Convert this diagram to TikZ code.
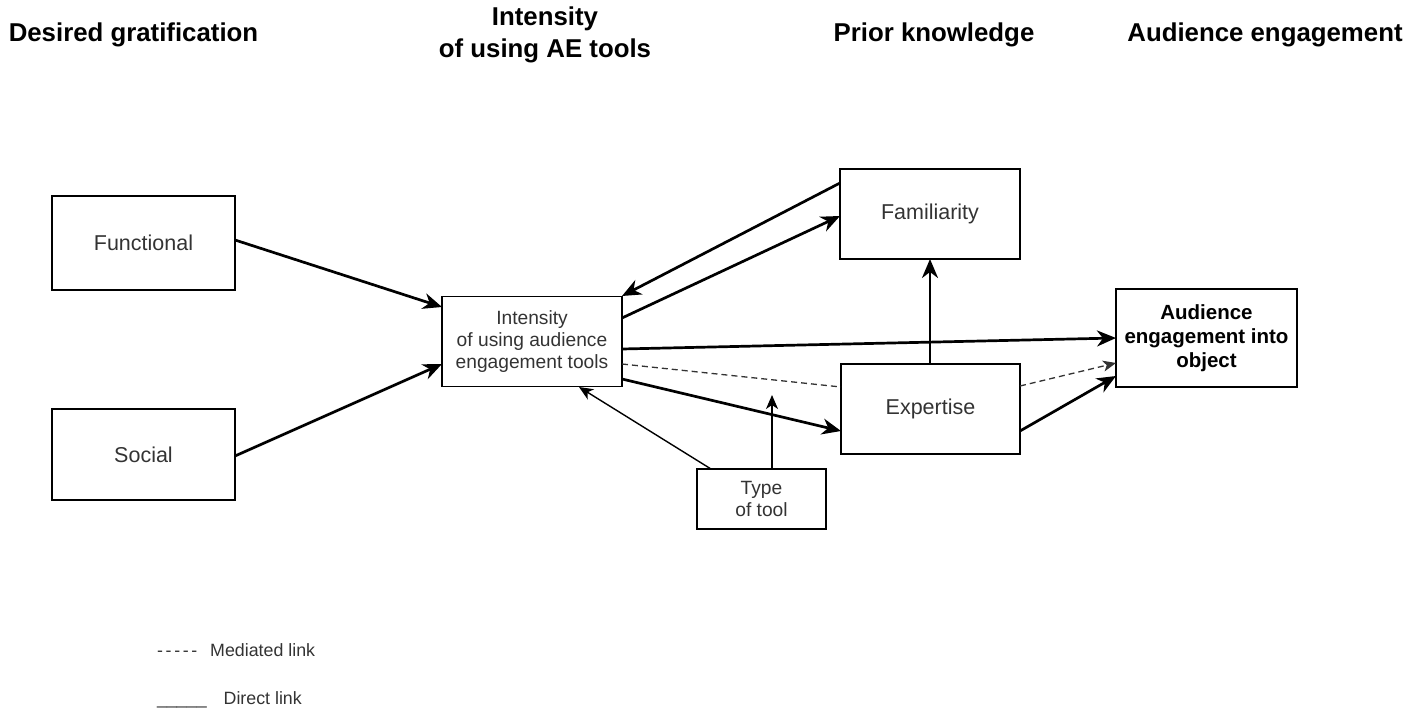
\documentclass[tikz,border=0pt]{standalone}
\usepackage{fontspec}
\setmainfont{Liberation Sans}
\usetikzlibrary{arrows.meta}
\definecolor{txtgrey}{HTML}{333333}
\begin{document}
\begin{tikzpicture}[x=1pt,y=-1pt,
  box/.style={draw=black,line width=1.5pt,rectangle,inner sep=0pt,align=center,text=txtgrey,font=\fontsize{21.5}{25}\selectfont},
  hdr/.style={font=\bfseries\fontsize{25.8}{32}\selectfont,align=center,text=black},
  strong/.style={line width=2.7pt,-{Stealth[length=19pt,width=16pt,inset=6pt]}},
  weak/.style={line width=1.4pt,-{Stealth[length=14pt,width=12pt,inset=4pt]}},
  medi/.style={line width=1.3pt,dash pattern=on 6pt off 4pt,draw=txtgrey},
  legend/.style={font=\fontsize{17.8}{20}\selectfont,text=txtgrey,anchor=west,inner sep=0pt}]
\useasboundingbox (0,0) rectangle (1422,711);

% column headings
\node[hdr] (h1) at (133.5,35) {Desired gratification};
\node[hdr] (h2) at (545,35) {Intensity\\of using AE tools};
\node[hdr] (h3) at (934,35) {Prior knowledge};
\node[hdr] (h4) at (1265,35) {Audience engagement};

% boxes
\node[box,minimum width=183pt,minimum height=94pt] (func) at (143.5,243) {Functional};
\node[box,minimum width=183pt,minimum height=91pt] (soc) at (143.5,454.5) {Social};
\node[box,minimum width=180pt,minimum height=90pt,font=\fontsize{19.2}{22}\selectfont] (inten) at (532,341.5) {Intensity\\of using audience\\engagement tools};
\node[box,minimum width=180pt,minimum height=90pt] (fam) at (930,214) {Familiarity};
\node[box,minimum width=179pt,minimum height=90pt] (exp) at (930.5,409) {Expertise};
\node[box,minimum width=181pt,minimum height=98pt,text=black,font=\bfseries\fontsize{20.5}{24}\selectfont] (aud) at (1206.5,338) {Audience\\engagement into\\object};
\node[box,minimum width=129pt,minimum height=60pt,font=\fontsize{19.2}{22}\selectfont] (tool) at (761.5,499) {Type\\of tool};

% connector end points on the box sides
\coordinate (funcA) at (235,240);
\coordinate (socA) at (235,456);
\coordinate (intL1) at (442,307);
\coordinate (intL2) at (442,364);
\coordinate (intTR) at (622,296);
\coordinate (intR1) at (622,318);
\coordinate (intR2) at (622,349);
\coordinate (intR3) at (622,364);
\coordinate (intR4) at (622,379);
\coordinate (intB) at (579,387);
\coordinate (famL1) at (840,183);
\coordinate (famL2) at (840,216);
\coordinate (famB) at (930,259);
\coordinate (expT) at (930,364);
\coordinate (expL1) at (841,387);
\coordinate (expL2) at (841,431);
\coordinate (expR1) at (1020,386);
\coordinate (expR2) at (1020,431);
\coordinate (audL1) at (1116,338);
\coordinate (audL2) at (1116,363);
\coordinate (audL3) at (1116,376);
\coordinate (toolT1) at (711,469);
\coordinate (toolT2) at (772,469);
\coordinate (toolEnd) at (772,395);

% direct links
\draw[strong] (funcA) -- (intL1);
\draw[strong] (socA) -- (intL2);
\draw[strong] (famL1) -- (intTR);
\draw[strong] (intR1) -- (famL2);
\draw[strong] (intR2) -- (audL1);
\draw[strong] (intR4) -- (expL2);
\draw[strong] (expR2) -- (audL3);
\draw[strong] (expT) -- (famB);
\draw[weak] (toolT1) -- (intB);
\draw[weak] (toolT2) -- (toolEnd);

% mediated link
\draw[medi] (intR3) -- (expL1);
\draw[medi,-{Stealth[length=13pt,width=11pt,inset=3.5pt]}] (expR1) -- (audL2);

% legend
\node[legend] (lg1) at (157,650) {-\hspace{2.6pt}-\hspace{2.6pt}-\hspace{2.6pt}-\hspace{2.6pt}-\hspace{13pt}Mediated link};
\node[legend] (lg2) at (157,700) {\_\_\_\_\_\hspace{17pt}Direct link};
\end{tikzpicture}
\end{document}
